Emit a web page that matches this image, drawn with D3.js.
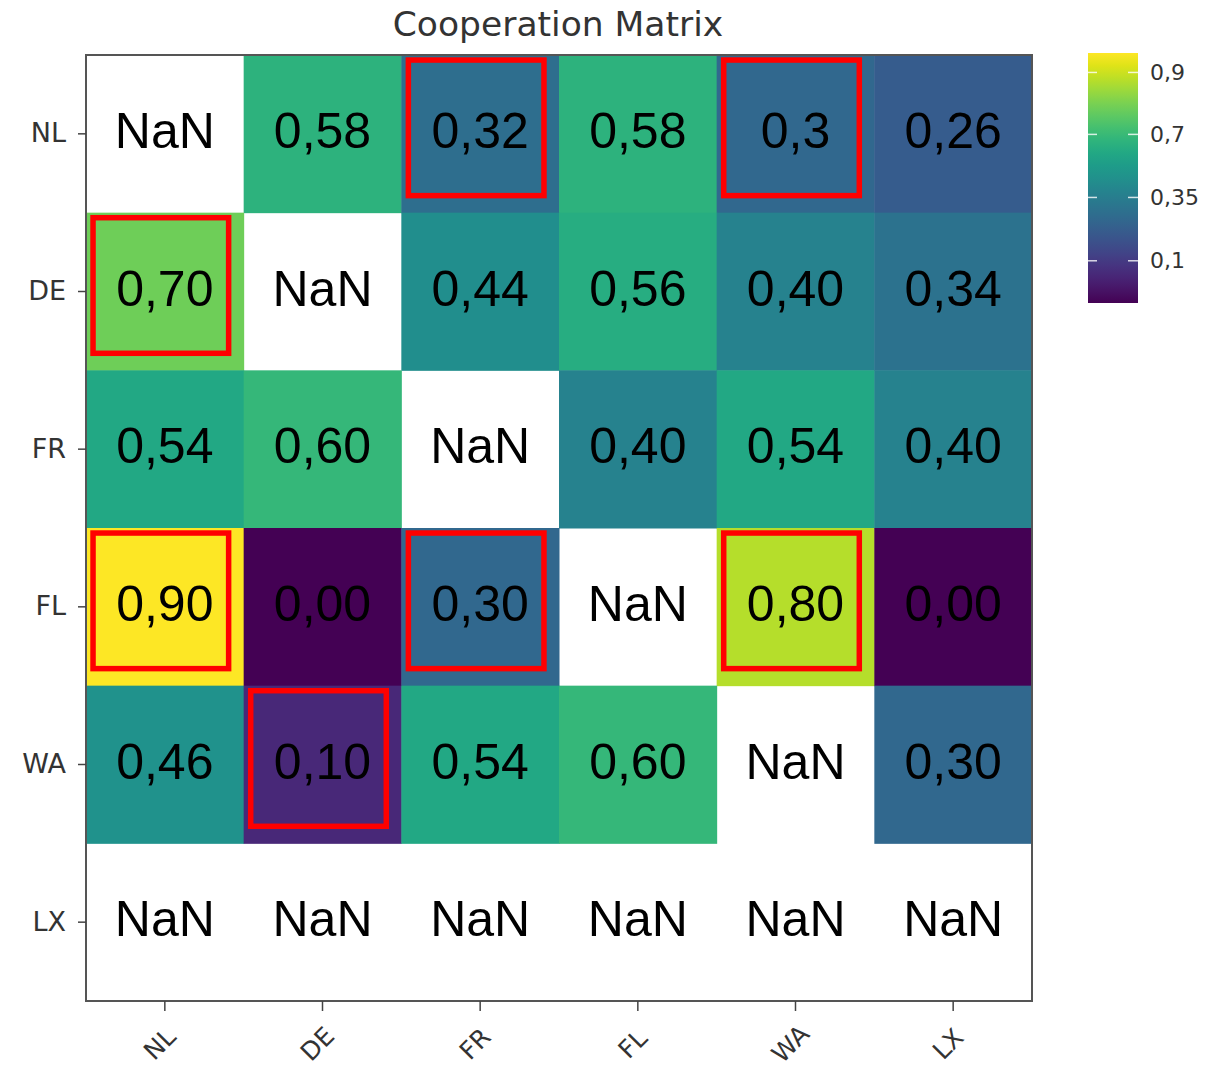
<!DOCTYPE html>
<html>
<head>
<meta charset="utf-8">
<script src="https://cdn.jsdelivr.net/npm/d3@7"></script>
<style>
  html, body { margin: 0; padding: 0; background: #fff; }
  svg { display: block; }
</style>
</head>
<body>
<svg id="chart" width="1216" height="1070"></svg>
<script>
// Country codes used on both axes
const countries = ["NL", "DE", "FR", "FL", "WA", "LX"];

// Cell labels, row by row (row = y country, column = x country)
const rowNL = ["NaN", "0,58", "0,32", "0,58", "0,3", "0,26"];
const rowDE = ["0,70", "NaN", "0,44", "0,56", "0,40", "0,34"];
const rowFR = ["0,54", "0,60", "NaN", "0,40", "0,54", "0,40"];
const rowFL = ["0,90", "0,00", "0,30", "NaN", "0,80", "0,00"];
const rowWA = ["0,46", "0,10", "0,54", "0,60", "NaN", "0,30"];
const rowLX = ["NaN", "NaN", "NaN", "NaN", "NaN", "NaN"];
const cellLabels = [rowNL, rowDE, rowFR, rowFL, rowWA, rowLX];

// Highlighted cells as [row country, column country]
const highlighted = [["NL", "FR"], ["NL", "WA"], ["DE", "NL"], ["FL", "NL"], ["FL", "FR"], ["FL", "WA"], ["WA", "DE"]];

// Colour bar ticks and their labels
const barTickValues = [0.83, 0.607, 0.38, 0.152];
const barTickLabels = ["0,9", "0,7", "0,35", "0,1"];
const colorDomain = [0, 0.9];

const parseVal = s => s === "NaN" ? NaN : parseFloat(s.replace(",", "."));

const cells = [];
cellLabels.forEach((row, i) => row.forEach((lab, j) => {
  cells.push({ row: countries[i], col: countries[j], label: lab, value: parseVal(lab) });
}));

const svg = d3.select("#chart");
const plot = { left: 86, right: 1032, top: 55, bottom: 1001 };

const x = d3.scaleBand().domain(countries).range([plot.left, plot.right]);
const y = d3.scaleBand().domain(countries).range([plot.top, plot.bottom]);
const color = d3.scaleSequential(d3.interpolateViridis).domain(colorDomain);

const labelFont = "'DejaVu Sans', sans-serif";
const textGrey = "#333";

// Title
svg.append("text")
  .attr("x", (plot.left + plot.right) / 2 - 1)
  .attr("y", 36)
  .attr("text-anchor", "middle")
  .attr("font-family", labelFont)
  .attr("font-size", 34.5)
  .attr("fill", textGrey)
  .text("Cooperation Matrix");

// Heatmap cells (NaN left white)
svg.append("g").selectAll("rect")
  .data(cells.filter(d => !isNaN(d.value)))
  .join("rect")
  .attr("x", d => x(d.col))
  .attr("y", d => y(d.row))
  .attr("width", x.bandwidth() + 0.5)
  .attr("height", y.bandwidth() + 0.5)
  .attr("fill", d => color(d.value));

// Cell annotations
svg.append("g").selectAll("text")
  .data(cells)
  .join("text")
  .attr("x", d => x(d.col) + x.bandwidth() / 2)
  .attr("y", d => y(d.row) + y.bandwidth() / 2 - 3)
  .attr("text-anchor", "middle")
  .attr("dominant-baseline", "central")
  .attr("font-family", "'Liberation Sans', Arial, sans-serif")
  .attr("font-size", 50)
  .attr("fill", "#000")
  .text(d => d.label);

// Red highlight boxes
const boxSize = x.bandwidth() * 0.86;
svg.append("g").selectAll("rect")
  .data(highlighted)
  .join("rect")
  .attr("x", d => x(d[1]) + x.bandwidth() / 2 - boxSize / 2 - 4)
  .attr("y", d => y(d[0]) + y.bandwidth() / 2 - boxSize / 2 - 6)
  .attr("width", boxSize)
  .attr("height", boxSize)
  .attr("fill", "none")
  .attr("stroke", "#ff0000")
  .attr("stroke-width", 5.5);

// Frame
svg.append("rect")
  .attr("x", plot.left)
  .attr("y", plot.top)
  .attr("width", plot.right - plot.left)
  .attr("height", plot.bottom - plot.top)
  .attr("fill", "none")
  .attr("stroke", "#555")
  .attr("stroke-width", 2);

// Y axis
const yAxis = svg.append("g")
  .attr("transform", `translate(${plot.left},0)`)
  .call(d3.axisLeft(y).tickSize(8).tickPadding(12));
yAxis.select(".domain").remove();
yAxis.selectAll(".tick line").attr("stroke", "#444").attr("stroke-width", 1.5);
yAxis.selectAll(".tick text")
  .attr("font-family", labelFont)
  .attr("font-size", 27)
  .attr("fill", textGrey);

// X axis with rotated labels
const xAxis = svg.append("g")
  .attr("transform", `translate(0,${plot.bottom})`)
  .call(d3.axisBottom(x).tickSize(10).tickPadding(0));
xAxis.select(".domain").remove();
xAxis.selectAll(".tick line").attr("stroke", "#444").attr("stroke-width", 1.5);
xAxis.selectAll(".tick text")
  .attr("font-family", labelFont)
  .attr("font-size", 25)
  .attr("fill", textGrey)
  .attr("text-anchor", "middle")
  .attr("dominant-baseline", "central")
  .attr("y", 0)
  .attr("dy", null)
  .attr("transform", "translate(-5,43) rotate(-45)");

// Colour bar
const bar = { x: 1088, y0: 53, y1: 303, w: 50 };
const barScale = d3.scaleLinear().domain(colorDomain).range([bar.y1, bar.y0]);
const defs = svg.append("defs");
const grad = defs.append("linearGradient")
  .attr("id", "viridis-bar")
  .attr("x1", 0).attr("y1", 1).attr("x2", 0).attr("y2", 0);
d3.range(0, 1.0001, 0.05).forEach(t => {
  grad.append("stop")
    .attr("offset", t)
    .attr("stop-color", d3.interpolateViridis(t));
});
svg.append("rect")
  .attr("x", bar.x)
  .attr("y", bar.y0)
  .attr("width", bar.w)
  .attr("height", bar.y1 - bar.y0)
  .attr("fill", "url(#viridis-bar)");

const barTicks = svg.append("g").selectAll("g")
  .data(barTickValues.map((v, i) => ({ v, label: barTickLabels[i] })))
  .join("g")
  .attr("transform", d => `translate(0,${barScale(d.v)})`);
barTicks.append("line")
  .attr("x1", bar.x).attr("x2", bar.x + 9)
  .attr("stroke", "#fff").attr("stroke-opacity", 0.8).attr("stroke-width", 1.5);
barTicks.append("line")
  .attr("x1", bar.x + bar.w - 10).attr("x2", bar.x + bar.w)
  .attr("stroke", "#fff").attr("stroke-opacity", 0.8).attr("stroke-width", 1.5);
barTicks.append("text")
  .attr("x", bar.x + bar.w + 12)
  .attr("dominant-baseline", "central")
  .attr("font-family", labelFont)
  .attr("font-size", 22)
  .attr("fill", textGrey)
  .text(d => d.label);
</script>
</body>
</html>
